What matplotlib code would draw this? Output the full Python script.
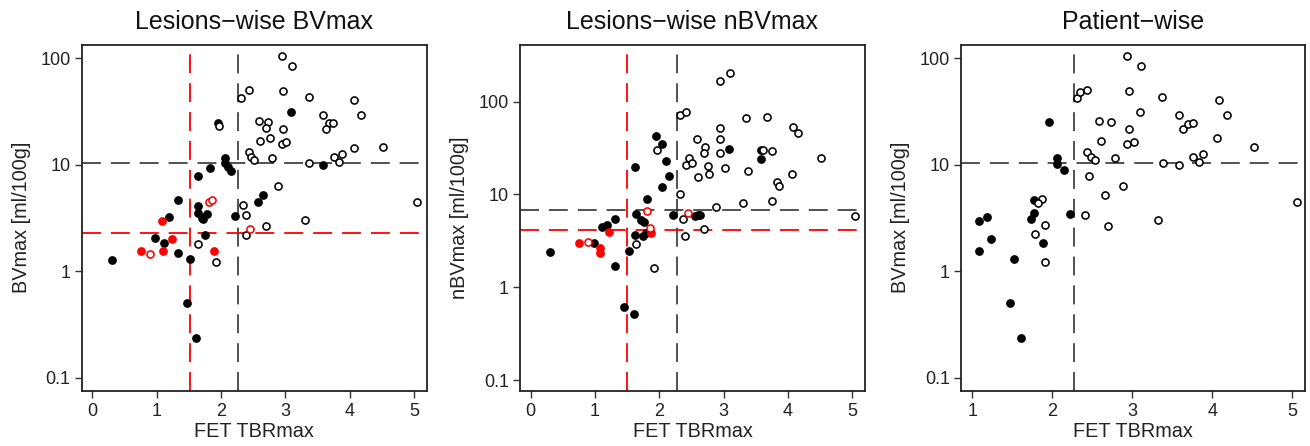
import matplotlib
matplotlib.use("Agg")
import matplotlib.pyplot as plt
import numpy as np

plt.rcParams['font.family'] = ['Liberation Sans', 'DejaVu Sans']

# ---------------- Panel 1: Lesions-wise BVmax ----------------
p1_fill_x = [1.955, 2.06, 2.06, 2.105, 2.15, 1.826, 1.64, 1.333, 1.64, 1.65, 1.70, 1.79, 1.72,
             1.19, 2.22, 0.975, 1.11, 1.75, 1.33, 1.525, 0.31, 1.48, 1.62, 3.095, 3.59, 2.655, 2.58]
p1_fill_y = [24.8, 11.5, 10.5, 9.6, 8.8, 9.3, 7.9, 4.69, 4.14, 3.55, 3.18, 3.49, 3.07,
             3.26, 3.3, 2.04, 1.86, 2.18, 1.50, 1.32, 1.28, 0.507, 0.238, 31.2, 10.0, 5.25, 4.45]
p1_open_x = [1.97, 2.31, 2.43, 2.945, 3.10, 2.96, 3.365, 4.075, 4.18, 3.59, 2.59, 2.73, 2.70, 2.97,
             3.68, 3.75, 3.63, 2.61, 2.76, 2.945, 3.01, 4.07, 4.52, 2.43, 2.47, 2.52, 2.79, 3.375,
             3.76, 3.83, 3.89, 2.89, 5.05, 2.35, 2.39, 2.39, 3.31, 2.70, 1.64, 1.92]
p1_open_y = [23.0, 42.7, 50.0, 104, 83.7, 49.0, 43.3, 40.4, 29.2, 29.2, 25.9, 25.2, 22.3, 21.8,
             24.5, 24.8, 21.8, 16.8, 17.7, 15.7, 16.4, 14.5, 14.7, 13.1, 11.9, 11.1, 11.5, 10.4,
             11.9, 10.7, 12.6, 6.28, 4.45, 4.18, 3.37, 2.19, 3.03, 2.66, 1.79, 1.23]
p1_rfill_x = [1.09, 1.24, 0.757, 1.095, 1.89]
p1_rfill_y = [3.0, 2.03, 1.56, 1.56, 1.54]
p1_ropen_x = [1.81, 1.857, 0.90, 2.45]
p1_ropen_y = [4.45, 4.72, 1.46, 2.48]

# ---------------- Panel 2: Lesions-wise nBVmax ----------------
p2_fill_x = [1.944, 2.05, 2.11, 1.63, 2.146, 2.04, 1.815, 1.633, 2.21, 1.32, 1.71, 1.77, 1.19, 1.115,
             1.62, 1.74, 1.80, 1.524, 0.98, 0.30, 1.32, 1.46, 1.613, 3.084, 3.59, 3.58, 2.55, 2.60, 2.64]
p2_fill_y = [42.5, 34.6, 23.0, 19.8, 15.8, 12.0, 8.9, 6.2, 5.95, 5.45, 5.28, 5.07, 4.67, 4.48,
             3.64, 3.55, 3.8, 2.47, 2.97, 2.41, 1.70, 0.615, 0.509, 30.8, 30.0, 23.8, 5.9, 5.95, 6.05]
p2_open_x = [2.317, 2.42, 1.96, 2.42, 2.47, 2.33, 2.37, 1.633, 1.913, 2.94, 3.10, 3.355, 3.675, 2.95,
             4.08, 4.16, 2.586, 2.95, 2.706, 2.69, 2.94, 3.62, 3.75, 2.515, 2.757, 2.60, 2.773, 3.017,
             3.375, 4.51, 4.06, 3.83, 3.87, 2.877, 3.31, 3.75, 5.04, 2.395, 2.69]
p2_open_y = [71.6, 77.6, 30.0, 20.7, 24.4, 10.2, 5.5, 2.89, 1.62, 165, 204, 65.9, 68.5, 52.3,
             52.7, 46.1, 39.2, 39.2, 32.1, 27.7, 27.7, 30.0, 29.3, 21.9, 20.3, 15.5, 16.6, 19.2,
             17.9, 24.4, 16.4, 13.7, 12.3, 7.35, 8.12, 8.47, 5.88, 3.58, 4.2]
p2_rfill_x = [1.218, 1.877, 0.747, 1.084, 1.084]
p2_rfill_y = [3.95, 3.8, 3.0, 2.62, 2.31]
p2_ropen_x = [1.81, 2.446, 1.86, 0.89]
p2_ropen_y = [6.66, 6.34, 4.36, 3.05]

# ---------------- Panel 3: Patient-wise ----------------
p3_fill_x = [1.96, 2.055, 2.06, 2.146, 2.22, 1.775, 1.775, 1.74, 1.084, 1.19, 1.24, 1.084, 1.52,
             1.88, 1.475, 1.61]
p3_fill_y = [25.2, 11.5, 10.2, 8.85, 3.49, 4.7, 3.5, 3.12, 2.99, 3.26, 2.03, 1.56, 1.32,
             1.86, 0.507, 0.238]
p3_open_x = [2.31, 2.35, 2.44, 2.59, 2.73, 2.605, 2.43, 2.48, 2.53, 2.78, 2.455, 2.66, 2.88, 2.41,
             1.87, 1.82, 2.70, 1.78, 1.91, 1.91, 2.94, 3.11, 2.96, 3.37, 4.08, 3.10, 4.18, 3.59,
             3.63, 3.70, 3.76, 2.96, 2.94, 3.02, 4.06, 4.52, 3.38, 3.59, 3.76, 3.83, 3.89, 5.06, 3.32]
p3_open_y = [42.7, 48.2, 50.0, 25.9, 25.0, 16.8, 13.1, 11.9, 11.1, 11.5, 7.9, 5.25, 6.28, 3.35,
             4.75, 4.4, 2.66, 2.23, 2.72, 1.23, 104, 83.7, 49.0, 43.3, 40.4, 31.0, 29.2, 29.2,
             21.8, 24.3, 24.8, 21.8, 15.7, 16.4, 17.7, 14.7, 10.3, 10.0, 11.9, 10.7, 12.6, 4.45, 3.06]

titles = ["Lesions\u2212wise BVmax", "Lesions\u2212wise nBVmax", "Patient\u2212wise"]
ylabels = ["BVmax [ml/100g]", "nBVmax [ml/100g]", "BVmax [ml/100g]"]
xlabel = "FET TBRmax"

# thresholds
p1_vlines = [(1.52, 'red'), (2.27, 'black')]
p1_hlines = [(10.35, 'black'), (2.27, 'red')]
p2_vlines = [(1.50, 'red'), (2.27, 'black')]
p2_hlines = [(6.75, 'black'), (4.12, 'red')]
p3_vlines = [(2.27, 'black')]
p3_hlines = [(10.35, 'black')]

W, H = 1310, 446
fig = plt.figure(figsize=(W / 100, H / 100), dpi=100)

boxes = [(81.7, 426.7), (520.0, 865.0), (961.0, 1305.0)]
top_px, bot_px = 44.7, 390.7
xlims = [(-0.165, 5.2), (-0.165, 5.2), (0.859, 5.16)]
ylims = [(10 ** -1.12, 10 ** 2.127), (10 ** -1.115, 10 ** 2.613), (10 ** -1.12, 10 ** 2.127)]
xticks = [[0, 1, 2, 3, 4, 5], [0, 1, 2, 3, 4, 5], [1, 2, 3, 4, 5]]

panels = [
    (p1_fill_x, p1_fill_y, p1_open_x, p1_open_y, p1_rfill_x, p1_rfill_y, p1_ropen_x, p1_ropen_y, p1_vlines, p1_hlines),
    (p2_fill_x, p2_fill_y, p2_open_x, p2_open_y, p2_rfill_x, p2_rfill_y, p2_ropen_x, p2_ropen_y, p2_vlines, p2_hlines),
    (p3_fill_x, p3_fill_y, p3_open_x, p3_open_y, [], [], [], [], p3_vlines, p3_hlines),
]

fill_ms = 6.3
open_ms = 5.1
open_mew = 1.15

for i, (l, r) in enumerate(boxes):
    ax = fig.add_axes([l / W, 1 - bot_px / H, (r - l) / W, (bot_px - top_px) / H])
    fx, fy, ox, oy, rfx, rfy, rox, roy, vls, hls = panels[i]
    ax.set_yscale('log')
    ax.set_xlim(*xlims[i])
    ax.set_ylim(*ylims[i])

    for v, c in vls:
        if c == 'red':
            ax.axvline(v, color='#ff0000', lw=1.3, linestyle=(0, (10.5, 5.5)), zorder=1)
        else:
            ax.axvline(v, color='#222222', lw=1.1, linestyle=(0, (12.4, 6.5)), zorder=1)
    for h, c in hls:
        if c == 'red':
            ax.axhline(h, color='#ff0000', lw=1.3, linestyle=(0, (10.5, 5.5)), zorder=1)
        else:
            ax.axhline(h, color='#222222', lw=1.1, linestyle=(0, (12.4, 6.5)), zorder=1)

    ax.plot(fx, fy, 'o', color='black', ms=fill_ms, mew=0, zorder=3)
    if rfx:
        ax.plot(rfx, rfy, 'o', color='#ff0000', ms=fill_ms, mew=0, zorder=3)
    ax.plot(ox, oy, 'o', mfc='white', mec='black', ms=open_ms, mew=open_mew, zorder=4)
    if rox:
        ax.plot(rox, roy, 'o', mfc='white', mec='#ff0000', ms=open_ms, mew=open_mew, zorder=4)

    ax.set_xticks(xticks[i])
    ax.set_xticklabels([str(t) for t in xticks[i]])
    ax.yaxis.set_major_locator(matplotlib.ticker.FixedLocator([0.1, 1, 10, 100]))
    ax.yaxis.set_minor_locator(matplotlib.ticker.NullLocator())
    ax.set_yticklabels(["0.1", "1", "10", "100"])
    ax.tick_params(axis='both', direction='out', length=5, width=1.0, labelsize=13,
                   color='#333333', labelcolor='#222222')
    ax.tick_params(axis='x', pad=4)
    ax.tick_params(axis='y', pad=3)
    for s in ax.spines.values():
        s.set_linewidth(1.3)
        s.set_color('#222222')
    ax.set_title(titles[i], fontsize=18, pad=11, color='#111111')
    ax.set_xlabel(xlabel, fontsize=14.3, labelpad=1, color='#222222')
    ax.set_ylabel(ylabels[i], fontsize=14.3, labelpad=7, color='#222222')

fig.savefig("out.png", dpi=100)
